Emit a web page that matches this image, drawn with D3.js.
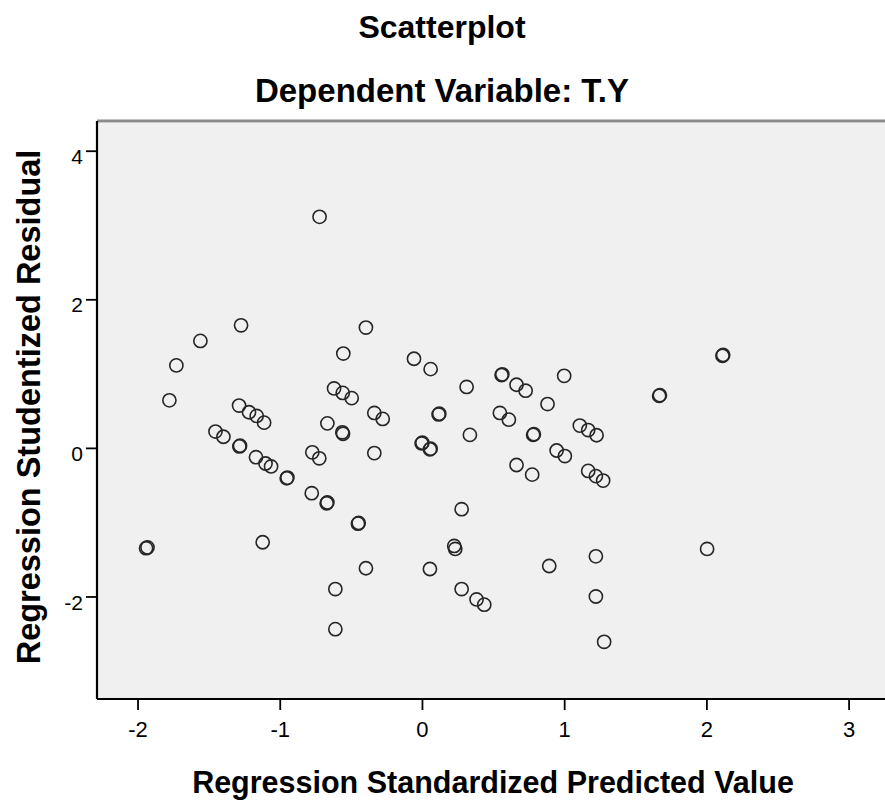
<!DOCTYPE html>
<html>
<head>
<meta charset="utf-8">
<script src="https://cdn.jsdelivr.net/npm/d3@7/dist/d3.min.js"></script>
<style>
  html, body { margin: 0; padding: 0; background: #fff; }
  svg { display: block; font-family: "Liberation Sans", Arial, sans-serif; }
</style>
</head>
<body>
<svg id="chart" width="885" height="803"></svg>
<script>
// ---- data ----
const titleText = "Scatterplot";
const subtitleText = "Dependent Variable: T.Y";
const xLabelText = "Regression Standardized Predicted Value";
const yLabelText = "Regression Studentized Residual";

const xTicks = [-2, -1, 0, 1, 2, 3];
const yTicks = [-2, 0, 2, 4];

// Regression standardized predicted values
const predicted = [
  -0.72, -1.94, -1.93, -1.776, -1.727, -1.558, -1.272, -1.286, -1.216, -1.162,
  -1.11, -1.452, -1.396, -1.284, -1.279, -1.167, -1.10, -1.061, -0.951, -0.946,
  -0.618, -0.557, -0.494, -0.553, -0.394, -0.665, -0.56, -0.555, -0.771, -0.722,
  -0.775, -0.67, -0.665, -0.45, -0.445, -1.12, -0.609, -0.609, -0.394, 0.056,
  0.279, 0.227, 0.234, 0.279, 0.384, 0.438, 0.895, 1.223, 1.223, 1.281,
  0.665, 0.775, 1.169, 1.223, 1.274, 2.005, 2.113, 2.118, 1.668, 1.673,
  -0.056, 0.061, 0.314, 0.56, 0.565, 0.665, 0.729, 1.0, 0.883, -0.335,
  -0.276, 0.117, 0.122, 0.548, 0.611, 1.11, 1.169, 1.228, 0.337, 0.782,
  0.787, -0.335, -0.002, 0.003, 0.056, 0.061, 0.947, 1.005
];

// Regression studentized residuals
const residual = [
  3.11, -1.35, -1.34, 0.64, 1.11, 1.44, 1.65, 0.57, 0.48, 0.43,
  0.34, 0.22, 0.15, 0.02, 0.03, -0.125, -0.21, -0.25, -0.41, -0.40,
  0.80, 0.74, 0.67, 1.27, 1.62, 0.33, 0.21, 0.19, -0.06, -0.14,
  -0.61, -0.745, -0.735, -1.02, -1.01, -1.27, -1.90, -2.44, -1.62, -1.63,
  -0.825, -1.32, -1.36, -1.90, -2.04, -2.11, -1.59, -1.46, -2.00, -2.61,
  -0.23, -0.36, -0.31, -0.38, -0.44, -1.36, 1.24, 1.25, 0.70, 0.71,
  1.20, 1.06, 0.82, 0.98, 0.99, 0.85, 0.77, 0.97, 0.59, 0.47,
  0.39, 0.45, 0.46, 0.47, 0.38, 0.30, 0.24, 0.17, 0.175, 0.175,
  0.185, -0.07, 0.06, 0.07, -0.02, -0.01, -0.035, -0.11
];

(function () {
const points = predicted.map((p, i) => ({ x: p, y: residual[i] }));
const fmt = d => String(d);  // plain hyphen-minus like the reference

// ---- layout ----
const svg = d3.select("#chart");
const pLeft = 97, pRight = 886, pTop = 121, pBottom = 699;

const x = d3.scaleLinear().domain([-2.285, 3.263]).range([pLeft, pRight]);
const y = d3.scaleLinear().domain([-3.38, 4.40]).range([pBottom, pTop]);

// plot background
svg.append("rect")
  .attr("x", pLeft).attr("y", pTop)
  .attr("width", pRight - pLeft).attr("height", pBottom - pTop)
  .attr("fill", "#f0f0f0");

// top border (gray, double-toned)
svg.append("line")
  .attr("x1", pLeft).attr("x2", pRight)
  .attr("y1", pTop).attr("y2", pTop)
  .attr("stroke", "#8a8a8a").attr("stroke-width", 3);
svg.append("line")
  .attr("x1", pLeft).attr("x2", pRight)
  .attr("y1", pTop + 1.5).attr("y2", pTop + 1.5)
  .attr("stroke", "#c8c8c8").attr("stroke-width", 1);

// points
svg.append("g")
  .selectAll("circle")
  .data(points)
  .join("circle")
  .attr("cx", d => x(d.x))
  .attr("cy", d => y(d.y))
  .attr("r", 6.6)
  .attr("fill", "none")
  .attr("stroke", "#262626")
  .attr("stroke-width", 1.6);

// x axis
const xAxis = svg.append("g")
  .attr("transform", `translate(0,${pBottom})`)
  .call(d3.axisBottom(x).tickValues(xTicks).tickSize(11).tickSizeOuter(0).tickPadding(11).tickFormat(fmt));
xAxis.select(".domain").attr("stroke", "#000").attr("stroke-width", 2.2)
  .attr("d", `M${pLeft},0H${pRight}`);
xAxis.selectAll(".tick line").attr("stroke", "#000").attr("stroke-width", 1.8);
xAxis.selectAll(".tick text")
  .attr("font-size", 22).attr("fill", "#000")
  .attr("font-family", "'Liberation Sans', Arial, sans-serif");

// y axis
const yAxis = svg.append("g")
  .attr("transform", `translate(${pLeft},0)`)
  .call(d3.axisLeft(y).tickValues(yTicks).tickSize(11).tickSizeOuter(0).tickPadding(3).tickFormat(fmt));
yAxis.select(".domain").attr("stroke", "#000").attr("stroke-width", 2.2)
  .attr("d", `M0,${pTop}V${pBottom}`);
yAxis.selectAll(".tick line").attr("stroke", "#000").attr("stroke-width", 1.8);
yAxis.selectAll(".tick text")
  .attr("font-size", 21).attr("fill", "#000")
  .attr("dy", "0.6em")
  .attr("font-family", "'Liberation Sans', Arial, sans-serif");

// titles
svg.append("text")
  .attr("x", 442).attr("y", 38)
  .attr("text-anchor", "middle")
  .attr("font-size", 32).attr("font-weight", "bold")
  .text(titleText);

svg.append("text")
  .attr("x", 442).attr("y", 102)
  .attr("text-anchor", "middle")
  .attr("font-size", 33).attr("font-weight", "bold")
  .text(subtitleText);

// axis labels
svg.append("text")
  .attr("x", 493).attr("y", 793)
  .attr("text-anchor", "middle")
  .attr("font-size", 30.5).attr("font-weight", "bold")
  .text(xLabelText);

svg.append("text")
  .attr("transform", "translate(40,407) rotate(-90)")
  .attr("text-anchor", "middle")
  .attr("font-size", 32.5).attr("font-weight", "bold")
  .text(yLabelText);
})();
</script>
</body>
</html>
